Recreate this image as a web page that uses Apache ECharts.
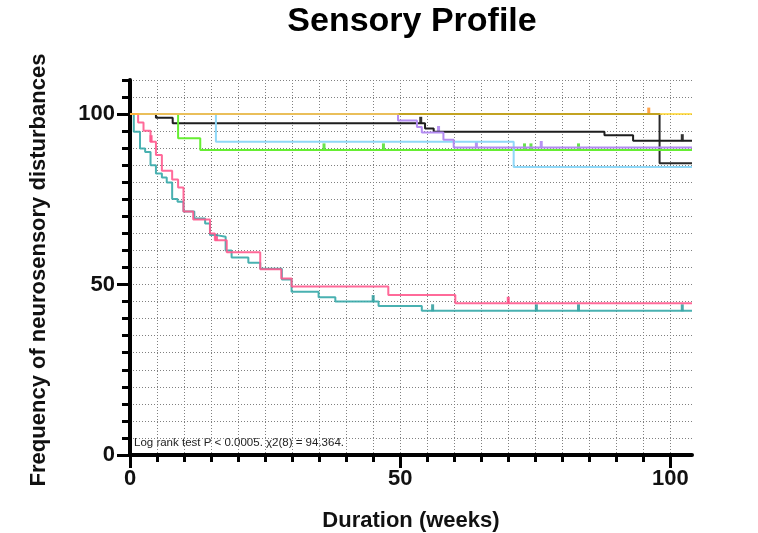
<!DOCTYPE html>
<html>
<head>
<meta charset="utf-8">
<script src="https://cdn.jsdelivr.net/npm/echarts@6/dist/echarts.min.js"></script>
<style>
  html, body { margin: 0; padding: 0; background: #fff; }
  #chart { width: 758px; height: 533px; }
</style>
</head>
<body>
<div id="chart"></div>
<script>
// ---- Data (Kaplan-Meier step curves: event times in weeks, survival %) ----
const darkTimes    = [0, 98, 104];
const darkValues   = [100, 85.6, 85.6];
const darkCensor   = [];

const blackTimes   = [0, 4.8, 7.9, 54.6, 56.2, 87.8, 93.1, 104];
const blackValues  = [100, 98.9, 97.3, 95.8, 94.8, 93.8, 92.2, 92.2];
const blackCensor  = [53.8, 102.2];

const greenTimes   = [0, 8.9, 13, 104];
const greenValues  = [100, 92.9, 89.5, 89.5];
const greenCensor  = [35.9, 46.9, 73, 74.2, 83];

const blueTimes    = [0, 15.9, 71, 104];
const blueValues   = [100, 91.9, 84.5, 84.5];
const blueCensor   = [];

const purpleTimes  = [0, 49.6, 53.1, 54, 58, 59.9, 104];
const purpleValues = [100, 98.1, 96.2, 94.6, 92.5, 90.2, 90.2];
const purpleCensor = [57.1, 64.1, 76.1];

const pinkTimes    = [0, 1.5, 2.5, 3.8, 4.8, 5.9, 7.8, 8.9, 9.9, 11.7, 14.8, 15.7, 17.9, 24.1, 28, 29.9, 47.8, 60.2, 104];
const pinkValues   = [100, 97.5, 95.1, 91.9, 88, 83.4, 80.8, 78.5, 71.4, 69.1, 65, 63, 59.5, 54.5, 51.8, 49.4, 46.9, 44.5, 44.5];
const pinkCensor   = [3.9, 16, 70];

const tealTimes    = [0, 0.7, 1.85, 2.8, 3.8, 4.8, 5.9, 6.8, 7.8, 8.8, 9.9, 11.9, 13.9, 14.8, 16, 17.7, 18.8, 21.9, 24.1, 28.1, 29.9, 34.9, 38, 46, 54, 104];
const tealValues   = [100, 94.8, 89.9, 88.9, 85, 82.6, 81.4, 79.9, 75.1, 74.3, 71.4, 69.4, 67.9, 64.5, 64, 60, 57.9, 56.4, 54.6, 51.5, 47.9, 46.3, 45, 43.7, 42.3, 42.3];
const tealCensor   = [45, 56, 75.2, 83, 102.2];

const yellowTimes  = [0, 104];
const yellowValues = [100, 100];
const yellowCensor = [96];

const xMinorTicks = [0,5,10,15,20,25,30,35,40,45,50,55,60,65,70,75,80,85,90,95,100];
const xMajorTicks = [0, 50, 100];
const yMinorTicks = [0,5,10,15,20,25,30,35,40,45,50,55,60,65,70,75,80,85,90,95,100,105,110];
const yMajorTicks = [0, 50, 100];

const titleText = 'Sensory Profile';
const xTitle = 'Duration (weeks)';
const yTitle = 'Frequency of neurosensory disturbances';
const noteText = 'Log rank test P < 0.0005. \u03C72(8) = 94.364.';

// ---- Build ----
function pairs(t, v) { return t.map((x, i) => [x, v[i]]); }
function valueAt(t, v, x) {
  let s = v[0];
  for (let i = 0; i < t.length; i++) { if (t[i] <= x) s = v[i]; }
  return s;
}
const groups = [
  { t: darkTimes, v: darkValues, c: darkCensor, color: '#2a2a2a', mark: '#000', op: 1 },
  { t: blackTimes, v: blackValues, c: blackCensor, color: '#1e1e1e', mark: '#000', op: 1 },
  { t: greenTimes, v: greenValues, c: greenCensor, color: '#66ee33', mark: '#44dd22', op: 1 },
  { t: blueTimes, v: blueValues, c: blueCensor, color: '#8fd8f8', mark: '#8fd8f8', op: 1 },
  { t: purpleTimes, v: purpleValues, c: purpleCensor, color: '#b48cf2', mark: '#a878f0', op: 1 },
  { t: tealTimes, v: tealValues, c: tealCensor, color: '#35a8a8', mark: '#1f9595', op: 0.9 },
  { t: pinkTimes, v: pinkValues, c: pinkCensor, color: '#ff5a8e', mark: '#ff3b7a', op: 0.9 },
  { t: yellowTimes, v: yellowValues, c: yellowCensor, color: '#ffd21f', mark: '#ff8c1a', op: 0.72 }
];
const series = [];
groups.forEach(g => {
  series.push({
    type: 'line', step: 'end', symbol: 'none', silent: true,
    xAxisIndex: 0, yAxisIndex: 0,
    data: pairs(g.t, g.v),
    lineStyle: { color: g.color, width: 2, opacity: g.op }
  });
});
groups.forEach(g => {
  if (!g.c.length) return;
  series.push({
    type: 'scatter', symbol: 'rect', symbolSize: [3, 7], symbolOffset: [0, -3],
    xAxisIndex: 0, yAxisIndex: 0, silent: true,
    itemStyle: { color: g.mark },
    data: g.c.map(x => [x, valueAt(g.t, g.v, x)])
  });
});

const FONT = '"Liberation Sans", Arial, sans-serif';
const dotted = { color: '#808080', width: 1, type: [1, 2] };

const option = {
  animation: false,
  backgroundColor: '#fff',
  grid: { left: 130, right: 66, top: 80, bottom: 78, containLabel: false },
  xAxis: [
    {
      type: 'value', min: 0, max: 104, interval: 5, position: 'bottom',
      axisLine: { onZero: false, lineStyle: { color: '#000', width: 4 } },
      axisTick: { show: true, length: 7, lineStyle: { color: '#000', width: 3 }, customValues: xMinorTicks },
      axisLabel: { show: false },
      splitLine: { show: true, lineStyle: dotted }
    },
    {
      type: 'value', min: 0, max: 104, interval: 5, position: 'bottom',
      axisLine: { show: false, onZero: false },
      axisTick: { show: true, length: 13, lineStyle: { color: '#000', width: 3 }, customValues: xMajorTicks },
      axisLabel: { show: true, customValues: xMajorTicks, margin: 13, fontFamily: FONT, fontWeight: 'bold', fontSize: 22, color: '#111' },
      splitLine: { show: false }
    }
  ],
  yAxis: [
    {
      type: 'value', min: 0, max: 110, interval: 5, position: 'left',
      axisLine: { show: true, onZero: false, lineStyle: { color: '#000', width: 4 } },
      axisTick: { show: true, length: 8, lineStyle: { color: '#000', width: 3 }, customValues: yMinorTicks },
      axisLabel: { show: false },
      splitLine: { show: true, lineStyle: dotted }
    },
    {
      type: 'value', min: 0, max: 110, interval: 5, position: 'left',
      axisLine: { show: false, onZero: false },
      axisTick: { show: true, length: 13, lineStyle: { color: '#000', width: 3 }, customValues: yMajorTicks },
      axisLabel: { show: true, customValues: yMajorTicks, margin: 15, fontFamily: FONT, fontWeight: 'bold', fontSize: 22, color: '#111' },
      splitLine: { show: false }
    }
  ],
  graphic: [
    { type: 'text', x: 412, y: 22, style: { text: titleText, font: 'bold 34px ' + FONT, fill: '#000', align: 'center', verticalAlign: 'middle' } },
    { type: 'text', x: 411, y: 521, style: { text: xTitle, font: 'bold 22px ' + FONT, fill: '#111', align: 'center', verticalAlign: 'middle' } },
    { type: 'text', x: 39, y: 270, rotation: Math.PI / 2, style: { text: yTitle, font: 'bold 22px ' + FONT, fill: '#111', align: 'center', verticalAlign: 'middle' } },
    { type: 'text', x: 134, y: 443, style: { text: noteText, font: '11.5px ' + FONT, fill: '#222', verticalAlign: 'middle' } }
  ],
  series: series
};

const chart = echarts.init(document.getElementById('chart'), null, { renderer: 'canvas' });
chart.setOption(option);
</script>
</body>
</html>
